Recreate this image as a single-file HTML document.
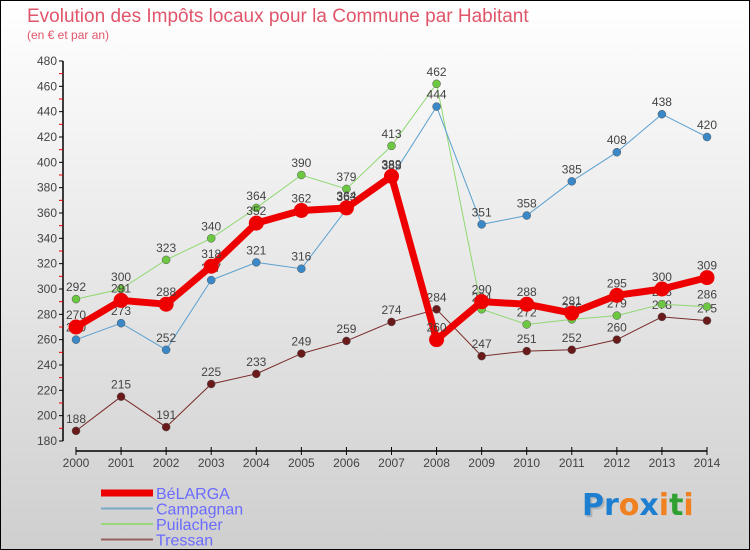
<!DOCTYPE html>
<html><head><meta charset="utf-8"><style>
body{margin:0;}
#wrap{position:relative;width:748px;height:548px;border:1px solid #000;background:linear-gradient(#ffffff,#cfcfcf);overflow:hidden;font-family:"Liberation Sans",sans-serif;}
</style></head><body>
<div id="wrap">
<svg id="chart" width="748" height="548">
<text x="26" y="21" font-size="19" fill="#e0556a">Evolution des Impôts locaux pour la Commune par Habitant</text>
<text x="26" y="38" font-size="12" fill="#e0556a">(en € et par an)</text>
<g id="axes"></g><g id="series"></g><g id="legend"></g>
<g font-size="30" font-weight="bold" font-family="'DejaVu Sans',sans-serif">
<text x="583" y="516" fill="#999" opacity="0.5">P</text>
<text x="581" y="514"><tspan fill="#1e7fd0">Pr</tspan><tspan fill="#f08020">o</tspan><tspan fill="#1e7fd0">x</tspan><tspan fill="#f08020">i</tspan><tspan fill="#30a030">t</tspan><tspan fill="#f08020">i</tspan></text>
</g>
</svg>
</div>
<script>
const years=[2000,2001,2002,2003,2004,2005,2006,2007,2008,2009,2010,2011,2012,2013,2014];
const belarga=[270,291,288,318,352,362,364,389,260,290,288,281,295,300,309];
const campagnan=[260,273,252,307,321,316,363,388,444,351,358,385,408,438,420];
const puilacher=[292,300,323,340,364,390,379,413,462,284,272,276,279,288,286];
const tressan=[188,215,191,225,233,249,259,274,284,247,251,252,260,278,275];
const yTicks=[180,200,220,240,260,280,300,320,340,360,380,400,420,440,460,480];
const NS="http://www.w3.org/2000/svg";
function xS(i){return 75+i*(706-75)/14;}
function yS(v){return 440-(v-180)*380/300;}
function mk(tag,attrs,parent,text){const e=document.createElementNS(NS,tag);for(const k in attrs)e.setAttribute(k,attrs[k]);if(text!==undefined)e.textContent=text;parent.appendChild(e);return e;}
const axes=document.getElementById('axes');
let e=mk('line',{x1:62,y1:60,x2:62,y2:440,stroke:'#000','stroke-width':1.5},axes);


yTicks.forEach(t=>{
  mk('line',{x1:58,y1:yS(t),x2:62,y2:yS(t),stroke:'#000'},axes);
  if(t<480) mk('line',{x1:58,y1:yS(t+10),x2:62,y2:yS(t+10),stroke:'#e00'},axes);
  const l=mk('text',{x:56,y:yS(t)+4,'font-size':12,fill:'#444','text-anchor':'end'},axes,t);
  
  
});
e=mk('line',{x1:75,y1:450,x2:706,y2:450,stroke:'#000','stroke-width':1.5},axes);


years.forEach((y,i)=>{
  mk('line',{x1:xS(i),y1:446,x2:xS(i),y2:454,stroke:'#000'},axes);
  const l=mk('text',{x:xS(i),y:466,'font-size':12,fill:'#444','text-anchor':'middle'},axes,y);
  
  
});
const sg=document.getElementById('series');
const defs=[
 {name:'tressan',data:tressan,color:'#7a2a2a',dot:'#6a1a1a',w:1,r:4},
 {name:'puilacher',data:puilacher,color:'#8fd870',dot:'#6cc840',w:1,r:4},
 {name:'campagnan',data:campagnan,color:'#5aa0d0',dot:'#3a88c8',w:1,r:4},
 {name:'belarga',data:belarga,color:'#ee0000',dot:'#ee0000',w:7,r:7.5}
];
defs.forEach(s=>{
  const g=mk('g',{},sg);
  
  
  const pl=mk('polyline',{points:s.data.map((v,i)=>xS(i)+','+yS(v)).join(' '),fill:'none',stroke:s.color,'stroke-width':s.w},g);
  
  
  s.data.forEach((v,i)=>{
    const c=mk('circle',{cx:xS(i),cy:yS(v),r:s.r,fill:s.dot,stroke:s.w>1?'#ee0000':'#555','stroke-width':s.w>1?0:0.5},g);
    
    
    const t=mk('text',{x:xS(i),y:yS(v)-8,'font-size':12,fill:'#444','text-anchor':'middle'},g,v);
    
    
  });
});
const lg=document.getElementById('legend');
const leg=[['BéLARGA','#ee0000',7],['Campagnan','#7aa8c8',2],['Puilacher','#98d878',2],['Tressan','#9a6060',2]];
leg.forEach((l,i)=>{
  const y=492+i*15.5;
  const g=mk('g',{},lg);
  
  
  mk('line',{x1:100,y1:y,x2:152,y2:y,stroke:l[1],'stroke-width':l[2]},g);
  mk('text',{x:155,y:y+6,'font-size':16,fill:'#6b6bff'},g,l[0]);
});
</script>
</body></html>
